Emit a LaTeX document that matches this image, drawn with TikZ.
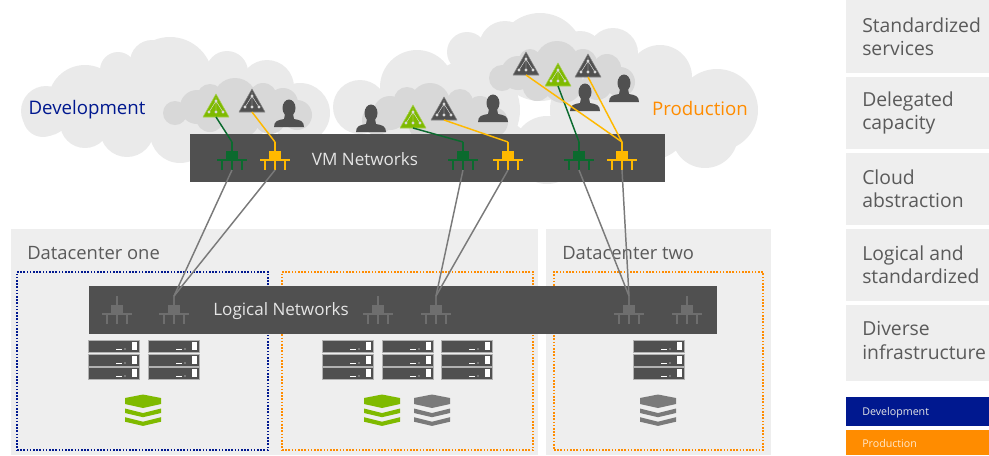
\documentclass[tikz,border=0pt]{standalone}
\usepackage{fontspec}
\setmainfont{Open Sans}
\usetikzlibrary{positioning}

\definecolor{cloudlight}{HTML}{EAEAEA}
\definecolor{clouddark}{HTML}{D8D8D8}
\definecolor{panelgray}{HTML}{EEEEEE}
\definecolor{bardark}{HTML}{505050}
\definecolor{textgray}{HTML}{5A5A5A}
\definecolor{portgray}{HTML}{6E6E6E}
\definecolor{linkgray}{HTML}{7A7A7A}
\definecolor{devblue}{HTML}{00188F}
\definecolor{prodorange}{HTML}{FF8C00}
\definecolor{netgreen}{HTML}{0B6A2E}
\definecolor{netyellow}{HTML}{FFB900}
\definecolor{limegreen}{HTML}{7FBA00}

\begin{document}
\begin{tikzpicture}[
    x=0.75pt, y=-0.75pt,
    flat/.style={rectangle, inner sep=0pt, outer sep=0pt, anchor=north west},
    dcbox/.style={flat, fill=panelgray, minimum height=169.5pt},
    zone/.style={flat, fill=none, line width=1.5pt, dash pattern=on 1.2pt off 1.2pt, minimum height=133.5pt},
    darkbar/.style={flat, fill=bardark, minimum height=36pt},
    sidebox/.style={flat, fill=panelgray, minimum width=107.25pt},
    legendbox/.style={flat, minimum width=107.25pt},
    dctext/.style={font=\fontsize{13.8}{17.6}\selectfont, text=textgray, inner sep=0pt},
    sidetext/.style={font=\fontsize{14.5}{17.6}\selectfont, text=textgray, inner sep=0pt, align=left},
    bartext/.style={font=\fontsize{12.8}{16}\selectfont, text=white!90!black, inner sep=0pt},
    cloudtext/.style={font=\fontsize{14}{16}\selectfont, inner sep=0pt},
    smalltext/.style={font=\fontsize{8}{10}\selectfont, inner sep=0pt},
    netlink/.style={line width=1.1pt},
    uplink/.style={line width=1.1pt, draw=linkgray},
    switch/.pic={
        \coordinate (-top) at (0,0);
        \coordinate (-bot) at (0,28);
        \fill[#1] (-6,9) rectangle (6,18);
        \draw[#1, line width=1.6pt] (0,0) -- (0,28);
        \draw[#1, line width=1.6pt] (-15,18) -- (15,18);
        \foreach \lx in {-10,10} \draw[#1, line width=1.6pt] (\lx,18) -- (\lx,28);
    },
    netri/.pic={
        \coordinate (-base) at (0,23);
        \fill[#1, draw=#1!70!white, line width=0.4pt, line join=round] (0,0) -- (13,23) -- (-13,23) -- cycle;
        \draw[white!85!black, line width=0.35pt] (0,7) -- (-7,18) (0,7) -- (0,18) (0,7) -- (7,18) (0,3) -- (0,7);
        \foreach \dx/\dy in {0/7,-7/18,0/18,7/18} \fill[white!85!black] (\dx,\dy) circle[radius=1.6];
    },
    person/.pic={
        \fill[bardark] (0,8) ellipse[x radius=6.5, y radius=8.5];
        \fill[bardark] (-4,14) -- (4,14) -- (5,19) .. controls (11,20) and (15,21) .. (15,27)
            -- (-15,27) .. controls (-15,21) and (-11,20) .. (-5,19) -- cycle;
    },
    servers/.pic={
        \foreach \sy in {0,14,27} {
            \fill[bardark, draw=white!70!black, line width=0.3pt] (0,\sy) rectangle (51,\sy+12);
            \fill[white] (44,\sy+2) rectangle (49,\sy+10);
            \draw[white, line width=0.6pt] (28,\sy+9) -- (34,\sy+9);
            \fill[white] (37,\sy+9) circle[radius=0.7];
        }
    },
    stack/.pic={
        \fill[#1] (-18,3.5) -- (0,0) -- (18,3.5) -- (18,9.5) -- (0,13.5) -- (-18,9.5) -- cycle;
        \foreach \cy in {14,22.7}
            \fill[#1] (-18,\cy) -- (0,\cy+4.5) -- (18,\cy) -- (18,\cy+4.5) -- (0,\cy+8.7) -- (-18,\cy+4.5) -- cycle;
    }
]
    \useasboundingbox (0,0) rectangle (989,455);

    % Outer clouds
    \foreach \cx/\cy/\r in {46/111/25, 43/117/20, 85/102/37, 85/123/25, 118/70/18, 127/130/27, 170/80/43,
        152/62/22, 180/133/30, 227/72/21, 267/87/27, 300/113/30, 150/100/40, 230/110/40, 120/100/30}
        \fill[cloudlight] (\cx,\cy) circle[radius=\r];
    \foreach \cx/\cy/\r in {360/107/27, 417/87/37, 467/52/20, 540/57/44, 505/47/26, 613/53/25, 660/77/32, 717/110/41,
        705/135/33, 547/150/34, 470/110/50, 600/110/50, 650/120/40, 400/130/30, 500/150/30, 580/55/24}
        \fill[cloudlight] (\cx,\cy) circle[radius=\r];

    % Inner clouds
    \foreach \cx/\cy/\r in {175/113/12, 197/107/17, 210/97/13, 235/100/22, 263/97/14, 283/103/15, 297/115/15,
        240/118/20, 270/118/16, 210/118/14,
        377/120/15, 390/113/17, 407/100/13, 430/103/20, 460/102/13, 480/110/14, 493/122/15, 430/122/22, 465/122/20,
        502/78/13, 518/73/17, 530/60/11, 557/63/22, 583/63/14, 607/68/14, 620/82/15, 597/85/15, 537/87/14, 563/83/20}
        \fill[clouddark] (\cx,\cy) circle[radius=\r];

    % Cloud labels
    \node[cloudtext, text=devblue] (devlabel) at (87,110) {Development};
    \node[cloudtext, text=prodorange] (prodlabel) at (700,108) {Production};

    % Datacenters
    \node[dcbox, minimum width=395.25pt] (dcone) at (11,229) {};
    \node[dcbox, minimum width=168.75pt] (dctwo) at (546,229) {};
    \node[dctext, anchor=west] (dconelabel) at (27,253) {Datacenter one};
    \node[dctext, anchor=west] (dctwolabel) at (562,253) {Datacenter two};
    \node[zone, draw=devblue, minimum width=188.25pt] (zonea) at (17,272) {};
    \node[zone, draw=prodorange, minimum width=188.25pt] (zoneb) at (282,272) {};
    \node[zone, draw=prodorange, minimum width=156.75pt] (zonec) at (554,272) {};

    % Network bars
    \node[darkbar, minimum width=356.25pt] (vmbar) at (190,134) {};
    \node[bartext] (vmlabel) at (365,159) {VM Networks};
    \node[darkbar, minimum width=471pt] (logbar) at (89,286) {};
    \node[bartext] (loglabel) at (281,311) {Logical Networks};

    % Users
    \foreach \px/\py in {289/100, 371/105, 493/95, 585/84, 624/75}
        \pic at (\px,\py) {person};

    % Servers and storage
    \foreach \sx in {88,148,322,382,441,633}
        \pic at (\sx,340) {servers};
    \foreach \tx in {143,382}
        \pic at (\tx,394.5) {stack=limegreen};
    \foreach \tx in {432,658}
        \pic at (\tx,394.5) {stack=linkgray};

    % Tenant networks
    \pic (tria) at (216,94) {netri=limegreen};
    \pic (trib) at (252,89) {netri=bardark};
    \pic (tric) at (413,105) {netri=limegreen};
    \pic (trid) at (444,97) {netri=bardark};
    \pic (trie) at (526,52) {netri=bardark};
    \pic (trif) at (558,63) {netri=limegreen};
    \pic (trig) at (588,54) {netri=bardark};

    % VM switches
    \pic (vma) at (232,142) {switch=netgreen};
    \pic (vmb) at (275,142) {switch=netyellow};
    \pic (vmc) at (463,142) {switch=netgreen};
    \pic (vmd) at (508,142) {switch=netyellow};
    \pic (vme) at (579,142) {switch=netgreen};
    \pic (vmf) at (622,142) {switch=netyellow};

    % Logical switches
    \pic (loga) at (117,296) {switch=portgray};
    \pic (logb) at (174,296) {switch=portgray};
    \pic (logc) at (378,296) {switch=portgray};
    \pic (logd) at (436,296) {switch=portgray};
    \pic (loge) at (629,296) {switch=portgray};
    \pic (logf) at (687,296) {switch=portgray};

    % Tenant links
    \draw[netlink, draw=netgreen] (tria-base) -- (vma-top);
    \draw[netlink, draw=netyellow] (trib-base) -- (vmb-top);
    \draw[netlink, draw=netgreen] (tric-base) -- (vmc-top);
    \draw[netlink, draw=netyellow] (trid-base) -- (vmd-top);
    \draw[netlink, draw=netgreen] (trif-base) -- (vme-top);
    \draw[netlink, draw=netyellow] (trie-base) -- (vmf-top);
    \draw[netlink, draw=netyellow] (trig-base) -- (vmf-top);

    % Uplinks
    \draw[uplink] (vma-bot) -- (logb-top);
    \draw[uplink] (vmb-bot) -- (logb-top);
    \draw[uplink] (vmc-bot) -- (logd-top);
    \draw[uplink] (vmd-bot) -- (logd-top);
    \draw[uplink] (vme-bot) -- (loge-top);
    \draw[uplink] (vmf-bot) -- (loge-top);

    % Side column
    \node[sidebox, minimum height=54.75pt] (sideone) at (846,0) {};
    \node[sidebox, minimum height=54pt, below=3pt of sideone] (sidetwo) {};
    \node[sidebox, minimum height=54pt, below=3pt of sidetwo] (sidethree) {};
    \node[sidebox, minimum height=54pt, below=3pt of sidethree] (sidefour) {};
    \node[sidebox, minimum height=57pt, below=3pt of sidefour] (sidefive) {};
    \node[legendbox, fill=devblue, minimum height=21.75pt, below=12pt of sidefive] (legdev) {};
    \node[legendbox, fill=prodorange, minimum height=18.75pt, below=3pt of legdev] (legprod) {};

    \node[sidetext, anchor=west] (sideonetext) at ([xshift=12pt]sideone.west) {Standardized\\services};
    \node[sidetext, anchor=west] (sidetwotext) at ([xshift=12pt]sidetwo.west) {Delegated\\capacity};
    \node[sidetext, anchor=west] (sidethreetext) at ([xshift=12pt]sidethree.west) {Cloud\\abstraction};
    \node[sidetext, anchor=west] (sidefourtext) at ([xshift=12pt]sidefour.west) {Logical and\\standardized};
    \node[sidetext, anchor=west] (sidefivetext) at ([xshift=12pt, yshift=2pt]sidefive.west) {Diverse\\infrastructure};
    \node[smalltext, anchor=west, text=white!90!black] (legdevtext) at ([xshift=12pt, yshift=-0.7pt]legdev.west) {Development};
    \node[smalltext, anchor=west, text=white!80!prodorange] (legprodtext) at ([xshift=12pt, yshift=-0.7pt]legprod.west) {Production};
\end{tikzpicture}
\end{document}
